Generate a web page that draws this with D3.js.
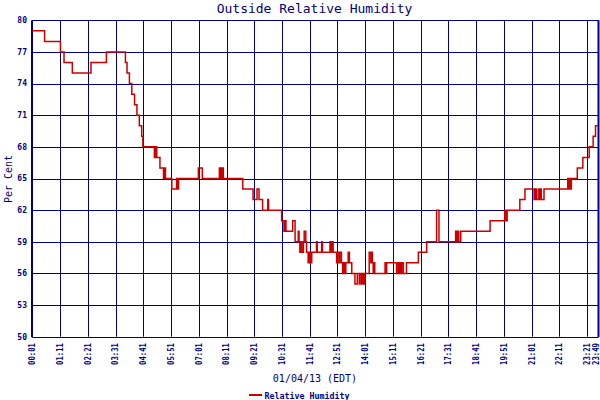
<!DOCTYPE html>
<html>
<head>
<meta charset="utf-8">
<script src="https://cdn.jsdelivr.net/npm/d3@7"></script>
<style>
  html, body { margin: 0; padding: 0; background: #fff; }
  svg { display: block; }
  text { font-family: "DejaVu Sans Mono", monospace; fill: #000080; }
</style>
</head>
<body>
<svg id="chart" width="600" height="400"></svg>
<script>
// ---- data (minutes since midnight, relative humidity %) ----
const times = [1,32,72,81,102,149,188,236,240,246,252,259,265,271,277,280,
  309,311,313,314,315,323,332,335,337,353,365,368,370,420,430,
  473,475,477,479,481,483,532,558,568,573,582,595,597,630,636,638,641,658,664,
  672,674,676,678,681,685,687,691,693,697,700,703,706,718,720,731,733,
  752,755,758,760,769,771,775,777,781,784,787,789,792,798,801,807,815,821,
  826,828,832,833,835,837,838,840,851,855,857,859,861,863,865,891,892,895,
  920,924,927,929,931,933,937,945,975,996,1021,1027,1069,1072,1075,1077,1082,
  1156,1193,1196,1199,1231,1244,1267,1269,1271,1273,1274,1279,1281,1283,1285,1292,
  1352,1354,1356,1359,1361,1376,1390,1406,1416,1422,1428];
const humidity = [79,78,77,76,75,76,77,76,75,74,73,72,71,70,69,68,
  67,68,67,68,67,66,65,66,65,64,65,64,65,66,65,
  66,65,66,65,66,65,64,63,64,63,62,63,62,61,60,61,60,61,59,
  60,59,58,59,58,59,60,59,58,57,58,57,58,59,58,59,58,
  59,58,59,58,57,58,57,58,57,56,57,56,57,58,57,56,55,56,
  55,56,55,56,55,56,55,56,58,57,58,57,56,57,56,57,56,57,
  56,57,56,57,56,57,56,57,58,59,62,59,60,59,60,59,60,
  61,62,61,62,63,64,63,64,63,64,63,64,63,64,63,64,
  65,64,65,64,65,66,67,68,69,70,70];

const xTickLabels = ["00:01","01:11","02:21","03:31","04:41","05:51","07:01","08:11",
  "09:21","10:31","11:41","12:51","14:01","15:11","16:21","17:31","18:41","19:51",
  "21:01","22:11","23:21","23:49"];
const yTicks = [50,53,56,59,62,65,68,71,74,77,80];

const title = "Outside Relative Humidity";
const yLabel = "Per Cent";
const xLabel = "01/04/13 (EDT)";
const seriesName = "Relative Humidity";

// ---- drawing ----
const navy = "#000080", red = "#cc0000";
const svg = d3.select("#chart");
const toMin = s => { const [h, m] = s.split(":").map(Number); return h * 60 + m; };

const x = d3.scaleLinear().domain([toMin(xTickLabels[0]), toMin(xTickLabels[xTickLabels.length - 1])]).range([32.3, 598.3]);
const y = d3.scaleLinear().domain([50, 80]).range([336.7, 20.3]);

const g = svg.append("g");

// horizontal grid
g.append("g").selectAll("line").data(yTicks).join("line")
  .attr("x1", x.range()[0]).attr("x2", x.range()[1])
  .attr("y1", d => Math.round(y(d)) + 0.5).attr("y2", d => Math.round(y(d)) + 0.5)
  .attr("stroke", navy).attr("stroke-width", 1);

// vertical grid
g.append("g").selectAll("line").data(xTickLabels).join("line")
  .attr("x1", d => Math.round(x(toMin(d))) + 0.5).attr("x2", d => Math.round(x(toMin(d))) + 0.5)
  .attr("y1", y(80)).attr("y2", y(50))
  .attr("stroke", navy).attr("stroke-width", 1);

// thicker left / right frame
g.append("line").attr("x1", 32).attr("x2", 32).attr("y1", y(80)).attr("y2", y(50) + 0.5)
  .attr("stroke", navy).attr("stroke-width", 2);
g.append("line").attr("x1", 598.5).attr("x2", 598.5).attr("y1", y(80)).attr("y2", y(50) + 0.5)
  .attr("stroke", navy).attr("stroke-width", 2);

// y tick labels
g.append("g").selectAll("text").data(yTicks).join("text")
  .attr("x", 27).attr("y", d => y(d)).attr("dy", "0.35em")
  .attr("text-anchor", "end")
  .style("font-size", "8px").style("font-weight", "bold")
  .text(d => d);

// x tick labels (rotated)
g.append("g").selectAll("text").data(xTickLabels).join("text")
  .attr("transform", d => `translate(${Math.min(x(toMin(d)), 596.5)},343) rotate(-90)`)
  .attr("dy", "0.35em")
  .attr("text-anchor", "end")
  .attr("textLength", 22).attr("lengthAdjust", "spacingAndGlyphs")
  .style("font-size", "8px").style("font-weight", "bold")
  .text(d => d);

// data line
const pts = times.map((t, i) => [t, humidity[i]]);
const line = d3.line().x(d => x(d[0])).y(d => y(d[1])).curve(d3.curveStepAfter);
g.append("path").datum(pts)
  .attr("d", line)
  .attr("fill", "none").attr("stroke", red).attr("stroke-width", 1.5);

// title
svg.append("text").attr("x", 314.5).attr("y", 12.7)
  .attr("text-anchor", "middle").style("font-size", "13px")
  .text(title);

// y label
svg.append("text")
  .attr("transform", "translate(11.5,179) rotate(-90)")
  .attr("text-anchor", "middle").style("font-size", "11px")
  .attr("textLength", 48).attr("lengthAdjust", "spacingAndGlyphs")
  .text(yLabel);

// x label
svg.append("text").attr("x", 315).attr("y", 381.5)
  .attr("text-anchor", "middle").style("font-size", "10px")
  .text(xLabel);

// legend
svg.append("line").attr("x1", 249).attr("x2", 262).attr("y1", 395).attr("y2", 395)
  .attr("stroke", red).attr("stroke-width", 2);
svg.append("text").attr("x", 264.5).attr("y", 398.5)
  .style("font-size", "8px").style("font-weight", "bold")
  .attr("textLength", 85).attr("lengthAdjust", "spacingAndGlyphs")
  .text(seriesName);
</script>
</body>
</html>
